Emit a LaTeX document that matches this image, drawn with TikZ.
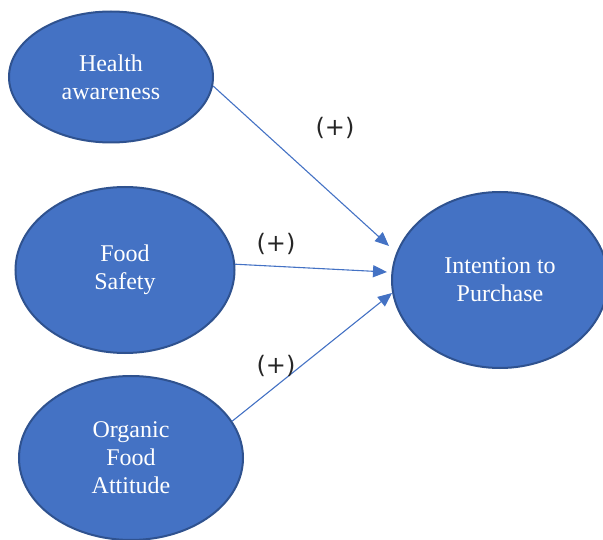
\documentclass[tikz,border=0pt]{standalone}
\usepackage{fontspec}
\setmainfont{Liberation Serif}
\newfontfamily\labfont{DejaVu Sans}
\usetikzlibrary{shapes.geometric,arrows.meta}
\definecolor{fillblue}{HTML}{4472C4}
\definecolor{edgeblue}{HTML}{2F528F}
\tikzset{
  ell/.style={ellipse, draw=edgeblue, line width=2pt, fill=fillblue, text=white,
    inner sep=0pt, align=center, font=\fontsize{24}{28}\selectfont},
  conn/.style={draw=fillblue, line width=1.1pt, -{Triangle[length=14pt,width=12pt]}},
  plus/.style={font=\labfont\fontsize{24}{28}\selectfont, text=black!85, inner sep=0pt}
}
\begin{document}
\begin{tikzpicture}[x=1pt,y=-1pt]
\useasboundingbox (0,0) rectangle (603,540);
\node[ell, minimum width=204pt, minimum height=131pt] (h) at (111,77) {Health\\awareness};
\node[ell, minimum width=219pt, minimum height=166pt] (f) at (125,270) {Food\\Safety};
\node[ell, minimum width=224pt, minimum height=164pt] (o) at (131,458) {Organic\\Food\\Attitude};
\node[ell, minimum width=216pt, minimum height=176pt] (i) at (500,280) {Intention to\\Purchase};
\coordinate (t1) at (389,246);
\coordinate (t2) at (387,272);
\coordinate (t3) at (392,293);
\draw[conn] (h.-5) -- (t1);
\draw[conn] (f.3) -- (t2);
\draw[conn] (o.20) -- (t3);
\node[plus] (p1) at (335,128) {(+)};
\node[plus] (p2) at (276,244) {(+)};
\node[plus] (p3) at (276,366) {(+)};
\end{tikzpicture}
\end{document}
